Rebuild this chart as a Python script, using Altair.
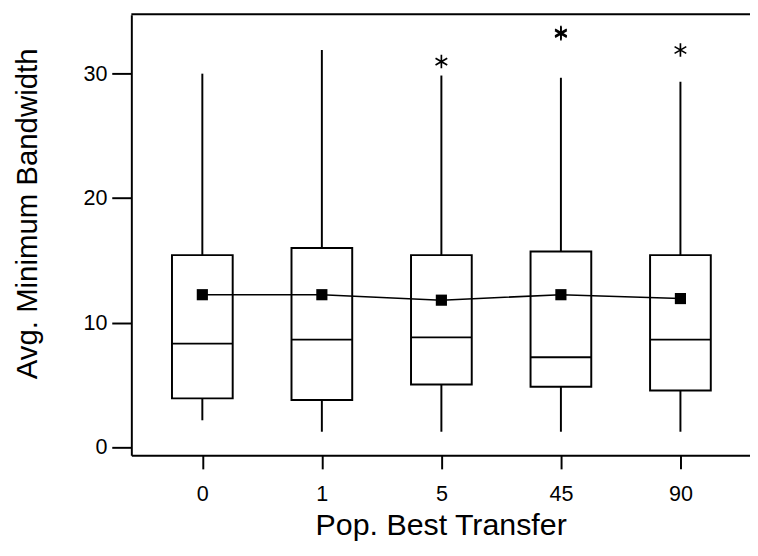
import altair as alt
import pandas as pd

# ---- data ----
cats = ["0", "1", "5", "45", "90"]
whisker_low = [2.15, 1.23, 1.23, 1.23, 1.23]
q1 = [3.91, 3.78, 5.03, 4.85, 4.54]
median = [8.31, 8.63, 8.81, 7.21, 8.63]
q3 = [15.42, 16.0, 15.42, 15.71, 15.42]
whisker_high = [30.0, 31.9, 29.85, 29.67, 29.35]
means = [12.24, 12.24, 11.8, 12.24, 11.93]
outlier_cat = ["5", "45", "45", "90"]
outlier_val = [30.97, 33.2, 33.3, 31.9]
y_ticks = [0, 10, 20, 30]

FONT = "Liberation Sans"
HALF = 0.254  # half box width in category units
PLOT_W = 632   # plot runs past the right edge of the window, as in the reference
PLOT_H = 450

box_df = pd.DataFrame({
    "cat": cats,
    "idx": list(range(len(cats))),
    "lo": whisker_low,
    "q1": q1,
    "med": median,
    "q3": q3,
    "hi": whisker_high,
    "mean": means,
})
out_df = pd.DataFrame({
    "cat": outlier_cat,
    "idx": [cats.index(c) for c in outlier_cat],
    "val": outlier_val,
})

label_expr = "[" + ",".join(f"'{c}'" for c in cats) + "][datum.value]"

xscale = alt.Scale(domain=[-0.594, -0.594 + PLOT_W / 122.1], nice=False, zero=False)
yscale = alt.Scale(domain=[-0.653, 34.74], nice=False, zero=False)

x_axis = alt.Axis(
    values=list(range(len(cats))), labelExpr=label_expr, title="Pop. Best Transfer",
    grid=False, tickSize=14, tickWidth=2, tickColor="black",
    domain=True, domainColor="black", domainWidth=2,
    labelBaseline="alphabetic", labelPadding=32, labelFontSize=22,
    titleFontSize=31, titleX=316, titleY=81, titleBaseline="alphabetic",
    titleAlign="center", titleFontWeight="normal",
)
y_axis = alt.Axis(
    values=y_ticks, title="Avg. Minimum Bandwidth",
    grid=False, tickSize=20, tickWidth=2, tickColor="black",
    domain=True, domainColor="black", domainWidth=2,
    labelAlign="right", labelBaseline="middle", labelPadding=5, labelFontSize=22,
    titleFontSize=30, titleAngle=270, titleX=-97, titleY=203,
    titleBaseline="alphabetic", titleAlign="center", titleFontWeight="normal",
)

base = alt.Chart(box_df)

whisk_up = base.mark_rule(color="black", strokeWidth=2).encode(
    x=alt.X("idx:Q", scale=xscale, axis=x_axis),
    y=alt.Y("q3:Q", scale=yscale, axis=y_axis),
    y2="hi:Q",
)
whisk_dn = base.mark_rule(color="black", strokeWidth=2).encode(
    x="idx:Q", y="lo:Q", y2="q1:Q",
)
boxes = base.transform_calculate(
    xl=f"datum.idx - {HALF}", xr=f"datum.idx + {HALF}"
).mark_rect(fill="white", stroke="black", strokeWidth=2).encode(
    x="xl:Q", x2="xr:Q", y="q1:Q", y2="q3:Q",
)
med = base.transform_calculate(
    xl=f"datum.idx - {HALF}", xr=f"datum.idx + {HALF}"
).mark_rule(color="black", strokeWidth=2).encode(
    x="xl:Q", x2="xr:Q", y="med:Q",
)
mean_line = base.mark_line(color="black", strokeWidth=1.6).encode(
    x="idx:Q", y="mean:Q",
)
mean_pts = base.mark_square(color="black", size=130, opacity=1).encode(
    x="idx:Q", y="mean:Q",
)
asterisk = "M0,-1L0,1M-0.866,-0.5L0.866,0.5M-0.866,0.5L0.866,-0.5"
outliers = alt.Chart(out_df).mark_point(
    shape=asterisk, filled=False, stroke="black", strokeWidth=1.7, size=190, opacity=1
).encode(x="idx:Q", y="val:Q")

frame_df = pd.DataFrame({"k": [0]})
top_line = alt.Chart(frame_df).mark_rule(color="black", strokeWidth=2).encode(
    x=alt.value(0), x2=alt.value(PLOT_W), y=alt.value(-0.5), y2=alt.value(-0.5)
)

chart = alt.layer(
    whisk_up, whisk_dn, boxes, med, mean_line, mean_pts, outliers, top_line
).properties(
    width=PLOT_W, height=PLOT_H,
    autosize=alt.AutoSizeParams(type="none"),
    padding={"left": 126, "top": 1, "right": 0, "bottom": 88},
    background="white",
).configure_view(
    stroke="transparent", strokeWidth=0
).configure_axis(
    labelFont=FONT, titleFont=FONT, labelColor="black", titleColor="black",
)

chart.save("out.html", embed_options={"renderer": "svg", "actions": False})
